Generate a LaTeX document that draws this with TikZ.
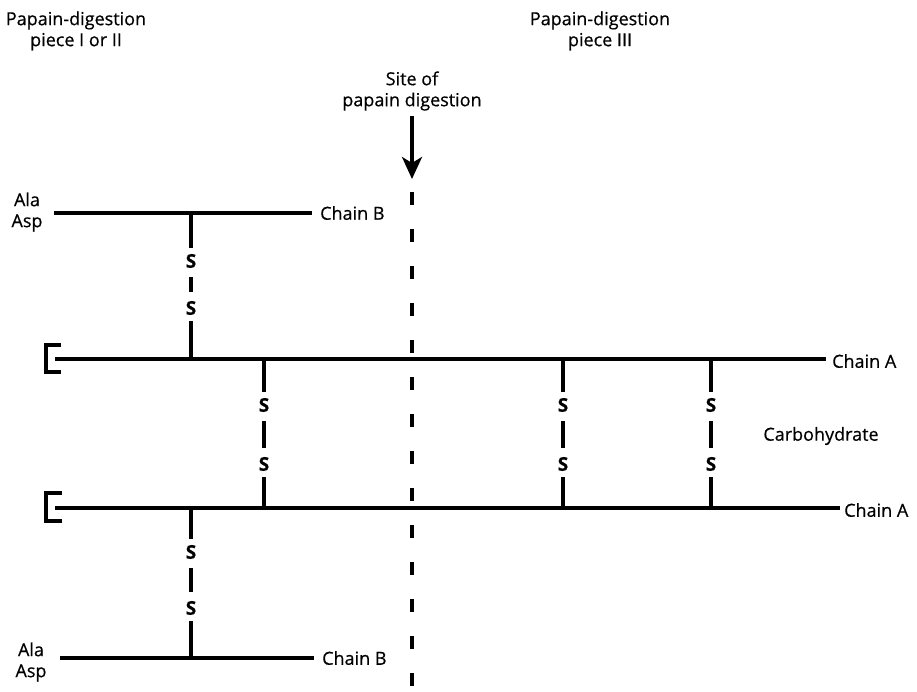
\documentclass[tikz,border=0pt]{standalone}
\usepackage{fontspec}
\setmainfont{Open Sans}[FakeBold=0.5]
\newfontfamily\sfont{Open Sans Bold}[FakeBold=0.6]
\usetikzlibrary{arrows.meta}
\begin{document}
\begin{tikzpicture}[x=1pt,y=-1pt,
  chainline/.style={line width=3.5pt},
  bondline/.style={line width=3.5pt},
  txt/.style={font=\fontsize{18}{21}\selectfont, inner sep=0pt, align=center},
  sbond/.style={font=\sfont\fontsize{19}{19}\selectfont, inner sep=6pt},
  cutline/.style={line width=4pt, dash pattern=on 13pt off 24pt},
  brk/.style={line width=3.5pt},
  digarrow/.style={line width=3.5pt, -{Stealth[length=22pt,width=20pt,inset=6pt]}}]
\useasboundingbox (0,0) rectangle (917,692);

% headings
\node[txt] (pI) at (76,31) {Papain-digestion\\piece I or II};
\node[txt] (pIII) at (600,31) {Papain-digestion\\piece III};
\node[txt] (site) at (412,91) {Site of\\papain digestion};

% site of digestion
\coordinate (arrtip) at (412,179);
\draw[digarrow, shorten <=5pt] (site.south) -- (arrtip);
\coordinate (cut0) at (412,192);
\coordinate (cut1) at (412,692);
\draw[cutline] (cut0) -- (cut1);

% top chain B
\node[txt] (aa1) at (27,212) {Ala\\Asp};
\coordinate (b1s) at (54,213);
\coordinate (b1e) at (312,213);
\draw[chainline] (b1s) -- (b1e);
\node[txt, anchor=west] (cb1) at (320,213) {Chain B};

% chain A (upper)
\coordinate (a1s) at (55,359);
\coordinate (a1e) at (826,359);
\draw[chainline] (a1s) -- (a1e);
\node[txt, anchor=west] (ca1) at (832,361) {Chain A};
\draw[brk] (61,345) -- (46,345) -- (46,372) -- (61,372);

% chain A (lower)
\coordinate (a2s) at (55,508);
\coordinate (a2e) at (840,508);
\draw[chainline] (a2s) -- (a2e);
\node[txt, anchor=west] (ca2) at (844,510) {Chain A};
\draw[brk] (62,493) -- (46,493) -- (46,521) -- (62,521);

% bottom chain B
\node[txt] (aa2) at (31,662) {Ala\\Asp};
\coordinate (b2s) at (60,658);
\coordinate (b2e) at (314,658);
\draw[chainline] (b2s) -- (b2e);
\node[txt, anchor=west] (cb2) at (322,658) {Chain B};

\node[txt] (carb) at (821,436) {Carbohydrate};

% disulfide bonds
% B (top) - A (upper)
\coordinate (t1) at (191,213); \coordinate (u1) at (191,359);
\node[sbond] (s1a) at (191,261) {S};
\node[sbond] (s1b) at (191,308) {S};
\draw[bondline] (t1) -- (s1a);
\draw[bondline, shorten <=3pt, shorten >=3pt] (s1a) -- (s1b);
\draw[bondline] (s1b) -- (u1);

% A - A bonds
\foreach \x/\n in {264/2, 563/3, 711/4}{
  \coordinate (t\n) at (\x,359); \coordinate (u\n) at (\x,508);
  \node[sbond] (s\n a) at (\x,405) {S};
  \node[sbond] (s\n b) at (\x,464) {S};
  \draw[bondline] (t\n) -- (s\n a);
  \draw[bondline, shorten <=3pt, shorten >=3pt] (s\n a) -- (s\n b);
  \draw[bondline] (s\n b) -- (u\n);
}

% A (lower) - B (bottom)
\coordinate (t5) at (191,508); \coordinate (u5) at (191,658);
\node[sbond] (s5a) at (191,552) {S};
\node[sbond] (s5b) at (191,608) {S};
\draw[bondline] (t5) -- (s5a);
\draw[bondline, shorten <=3pt, shorten >=3pt] (s5a) -- (s5b);
\draw[bondline] (s5b) -- (u5);
\end{tikzpicture}
\end{document}
